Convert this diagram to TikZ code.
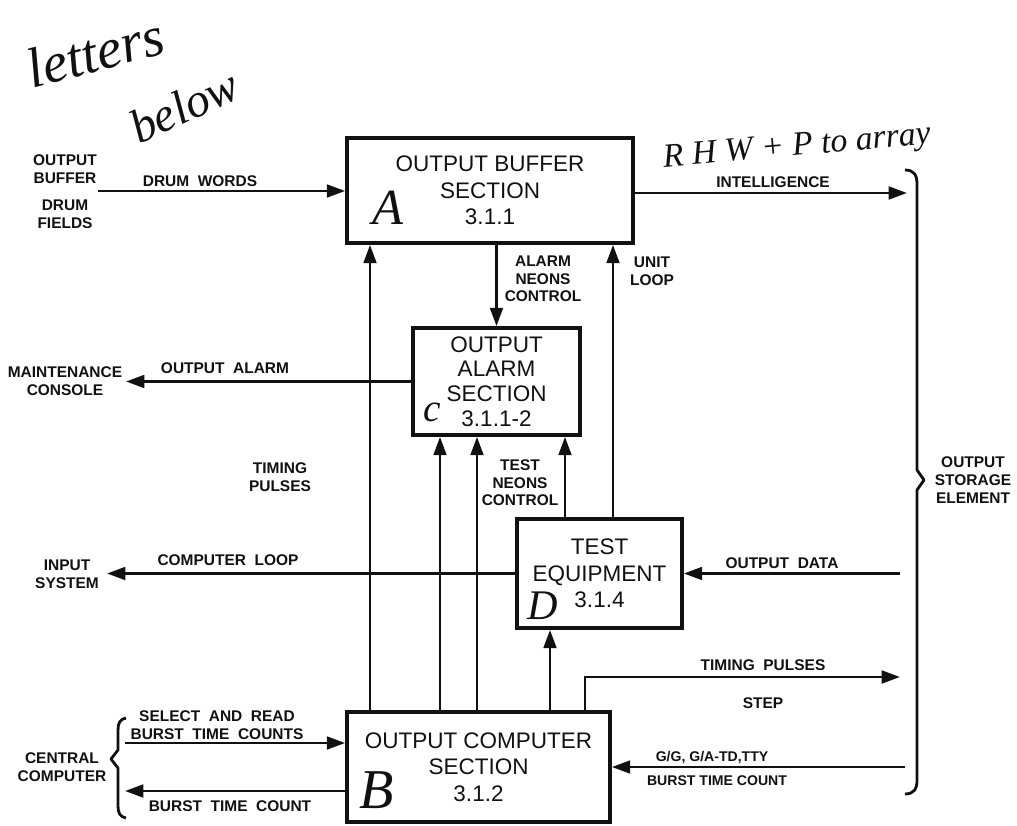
\documentclass[tikz,border=0pt]{standalone}
\usepackage{fontspec}
\setmainfont{Liberation Sans}
\newfontfamily\handfont{Liberation Serif}
\usepackage{xcolor}
\usepackage{tikz}
\usetikzlibrary{arrows.meta,positioning}
\definecolor{ink}{HTML}{111111}

\begin{document}
\begin{tikzpicture}[
  x=0.025cm, y=-0.025cm,
  sectionbox/.style={
    rectangle, draw=ink, line width=2.6pt,
    inner sep=0pt, align=center, text=ink,
    font=\fontsize{16}{19}\selectfont,
  },
  sig/.style={draw=ink, line width=2pt, -{Triangle[length=13pt,width=9pt]}},
  wire/.style={draw=ink, line width=2pt},
  tag/.style={align=center, inner sep=1pt, text=ink, font=\fontsize{11}{13}\selectfont\bfseries},
  scrawl/.style={text=ink, inner sep=0pt, font=\handfont\itshape},
]

\useasboundingbox (0,0) rectangle (1017,826);

\node[sectionbox, minimum width=7.15cm, minimum height=2.625cm] (buffer) at (490,190.5) {OUTPUT BUFFER\\SECTION\\3.1.1};
\node[sectionbox, minimum width=4.175cm, minimum height=2.675cm, font=\fontsize{16}{17.5}\selectfont] (alarm) at (496.5,381.5) {OUTPUT\\ALARM\\SECTION\\3.1.1-2};
\node[sectionbox, minimum width=4.125cm, minimum height=2.725cm] (testeq) at (599.5,573.5) {TEST\\EQUIPMENT\\3.1.4};
\node[sectionbox, minimum width=6.575cm, minimum height=2.75cm] (computer) at (478.5,767) {OUTPUT COMPUTER\\SECTION\\3.1.2};

\node[scrawl, font=\handfont\itshape\fontsize{36}{36}\selectfont] (markA) at (388,208) {A};
\node[scrawl, font=\handfont\itshape\fontsize{40}{40}\selectfont] (markB) at (377,790) {B};
\node[scrawl, font=\handfont\itshape\fontsize{28}{28}\selectfont] (markC) at (432,412) {c};
\node[scrawl, font=\handfont\itshape\fontsize{30}{30}\selectfont] (markD) at (543,606) {D};

\node[scrawl, rotate=15, font=\handfont\itshape\fontsize{40}{40}\selectfont] (letters) at (95,52) {letters};
\node[scrawl, rotate=25, font=\handfont\itshape\fontsize{34}{34}\selectfont] (below) at (184,106) {below};
\node[scrawl, rotate=5, font=\handfont\itshape\fontsize{24}{24}\selectfont] (rhwp) at (797,148) {R H W + P to array};

\node[tag] (obdf) at (65,192) {OUTPUT\\BUFFER\\[6pt]DRUM\\FIELDS};
\node[tag] (maint) at (65,381) {MAINTENANCE\\CONSOLE};
\node[tag] (inputsys) at (67,574) {INPUT\\SYSTEM};
\node[tag] (central) at (62,767) {CENTRAL\\COMPUTER};
\node[tag] (storage) at (973,480) {OUTPUT\\STORAGE\\ELEMENT};

\coordinate (intelout) at (907,193);
\coordinate (maintin) at (126,380);
\coordinate (loopout) at (107,573);
\coordinate (dataout) at (900,573);
\coordinate (pulseout) at (900,677);
\coordinate (selectin) at (125,743);
\coordinate (countout) at (125,791);
\coordinate (ggin) at (905,767);

\coordinate (col1) at (370,0);
\coordinate (col2) at (440,0);
\coordinate (col3) at (477,0);
\coordinate (col4) at (550,0);
\coordinate (col5) at (585,0);
\coordinate (col6) at (565,0);
\coordinate (col7) at (613,0);

\draw[sig] (obdf.east |- 0,191) -- (obdf.east |- 0,191 -| buffer.west);
\draw[sig] (buffer.east |- intelout) -- (intelout);
\draw[sig] (alarm.north |- buffer.south) -- (alarm.north);
\draw[sig] (alarm.west) -- (alarm.west -| maintin);
\draw[sig] (testeq.west) -- (testeq.west -| loopout);
\draw[sig] (dataout |- testeq.east) -- (testeq.east);
\draw[sig] (selectin) -- (selectin -| computer.west);
\draw[sig] (computer.west |- countout) -- (countout);
\draw[sig] (ggin) -- (computer.east);

\draw[sig] (col1 |- computer.north) -- (col1 |- buffer.south);
\draw[sig] (col2 |- computer.north) -- (col2 |- alarm.south);
\draw[sig] (col3 |- computer.north) -- (col3 |- alarm.south);
\draw[sig] (col4 |- computer.north) -- (col4 |- testeq.south);
\draw[sig] (col5 |- computer.north) |- (pulseout);
\draw[sig] (col6 |- testeq.north) -- (col6 |- alarm.south);
\draw[sig] (col7 |- testeq.north) -- (col7 |- buffer.south);

\node[tag] (drumwords) at (200,181) {DRUM\ \ WORDS};
\node[tag] (intel) at (773,182) {INTELLIGENCE};
\node[tag, font=\fontsize{11}{12.5}\selectfont\bfseries] (alarmneons) at (543,279) {ALARM\\NEONS\\CONTROL};
\node[tag] (unitloop) at (652,271) {UNIT\\LOOP};
\node[tag] (outalarm) at (225,368) {OUTPUT\ \ ALARM};
\node[tag] (timing) at (280,477) {TIMING\\PULSES};
\node[tag, font=\fontsize{11}{12.5}\selectfont\bfseries] (testneons) at (520,483) {TEST\\NEONS\\CONTROL};
\node[tag] (comploop) at (228,560) {COMPUTER\ \ LOOP};
\node[tag] (outdata) at (782,563) {OUTPUT\ \ DATA};
\node[tag] (pulses) at (763,665) {TIMING\ \ PULSES};
\node[tag] (step) at (763,703) {STEP};
\node[tag] (selread) at (217,725) {SELECT\ \ AND\ \ READ\\BURST\ \ TIME\ \ COUNTS};
\node[tag] (burst) at (230,806) {BURST\ \ TIME\ \ COUNT};
\node[tag, font=\fontsize{10}{12}\selectfont\bfseries] (ggcode) at (712,757) {G/G, G/A-TD,TTY};
\node[tag, font=\fontsize{10}{12}\selectfont\bfseries] (burstin) at (717,781) {BURST TIME COUNT};

\draw[wire, line join=round] (905,170) .. controls (914,170) and (917,175) .. (917,184)
  -- (917,470) -- (924,480) -- (917,490) -- (917,780)
  .. controls (917,789) and (914,794) .. (905,794);
\draw[wire, line join=round] (126,718) .. controls (120,719) and (118,723) .. (118,730)
  -- (118,750) -- (111,759) -- (118,768) -- (118,806)
  .. controls (118,813) and (120,817) .. (126,818);

\end{tikzpicture}
\end{document}
